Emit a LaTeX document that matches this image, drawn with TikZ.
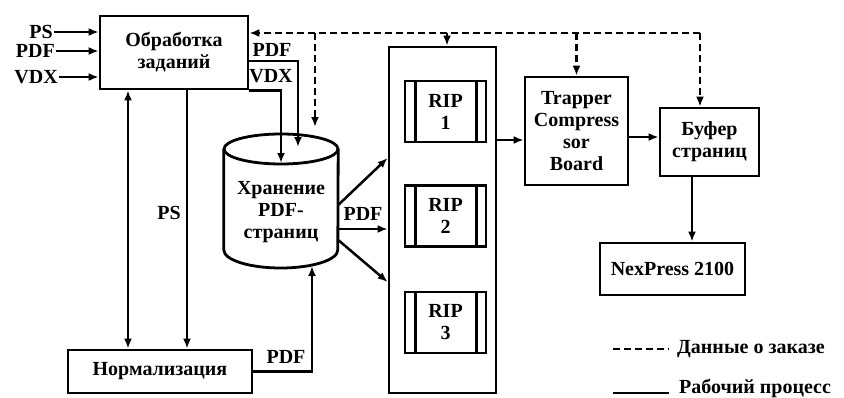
\documentclass[tikz,border=0pt]{standalone}
\usepackage{fontspec}
\setmainfont{Liberation Serif}
\usetikzlibrary{arrows.meta,calc}

\begin{document}
\begin{tikzpicture}[
  x=1pt, y=-1pt, >={Latex[length=10pt,width=8pt]},
  font=\fontsize{20}{22}\selectfont\bfseries,
  box/.style={draw, line width=2.8pt, align=center, inner sep=0pt},
  ripbox/.style={box, minimum width=81pt, minimum height=61pt},
  e/.style={->, line width=2.5pt},
  e2/.style={<->, line width=2.5pt},
  ed/.style={->, line width=2.5pt, dash pattern=on 7pt off 4pt},
  lbl/.style={inner sep=1pt}
]
\useasboundingbox (0,0) rectangle (844,397);

% ---- boxes
\node[box, minimum width=148pt, minimum height=73pt] (job) at (174,52.5)
  {Обработка\\заданий};
\node[box, minimum width=184pt, minimum height=43pt] (norm) at (160,371.5)
  {Нормализация};
\node[align=center, inner sep=0pt, minimum width=114pt, minimum height=112pt]
  (store) at (281,212) {Хранение\\PDF-\\страниц};
\node[box, minimum width=107pt, minimum height=346pt] (rips) at (442.5,220) {};
\foreach \i/\y in {1/111.5,2/216,3/322.5}
  \node[ripbox] (rip\i) at (445.5,\y) {RIP\\\i};
\node[box, minimum width=103pt, minimum height=108pt] (trap) at (576.5,131)
  {Trapper\\Compress\\sor\\Board};
\node[box, minimum width=99pt, minimum height=68pt] (buf) at (709.5,142)
  {Буфер\\страниц};
\node[box, minimum width=145pt, minimum height=52pt] (nex) at (672.5,269)
  {NexPress 2100};

% ---- cylinder outline
\draw[line width=2.8pt] (store.center |- 0,149) ellipse [x radius=57pt, y radius=15pt];
\draw[line width=2.8pt] (store.west |- 0,149) -- (store.west |- 0,250)
  arc[start angle=180, end angle=360, x radius=57pt, y radius=18pt]
  -- (store.east |- 0,149);

% ---- RIP side bars
\foreach \i in {1,2,3} {
  \draw[line width=2.5pt] ([xshift=12pt]rip\i.north west) -- ([xshift=12pt]rip\i.south west);
  \draw[line width=2.5pt] ([xshift=-11pt]rip\i.north east) -- ([xshift=-11pt]rip\i.south east);
}

% ---- inputs
\node[lbl, anchor=east] (inps) at (54,32) {PS};
\node[lbl, anchor=east] (inpdf) at (56,51) {PDF};
\node[lbl, anchor=east] (invdx) at (59,77) {VDX};
\foreach \n in {inps,inpdf,invdx}
  \draw[e] (\n.east) -- (job.west |- \n.east);

% ---- job to store
\coordinate (endpdf) at (298,147);
\coordinate (endvdx) at (281,163);
\draw[e] (job.east |- 0,61) -| (endpdf);
\draw[e] (job.south east) -| (endvdx);
\node[lbl] (lpdf) at (272,50) {PDF};
\node[lbl] (lvdx) at (271,76) {VDX};

% ---- order data (dashed)
\coordinate (bustop) at (700,33);
\coordinate (dstore) at (315,127);
\coordinate (riptop) at ([xshift=4.5pt]rips.north);
\draw[ed] (bustop) -- (job.east |- bustop);
\draw[ed] (bustop) -- (buf.north -| bustop);
\draw[ed] (trap.north |- bustop) -- (trap.north);
\draw[ed] (riptop |- bustop) -- (riptop);
\draw[ed] (dstore |- bustop) -- (dstore);

% ---- job <-> normalisation
\draw[e2] (job.south -| 128,0) -- (norm.north -| 128,0);
\draw[e] (job.south -| 187,0) -- (norm.north -| 187,0);
\node[lbl] (lps) at (169,213) {PS};

% ---- normalisation to store
\coordinate (endbot) at (312,266);
\draw[e] (norm.east) -| (endbot);
\node[lbl] (lpdf3) at (286,357) {PDF};

% ---- store to RIPs
\draw[e] (store.east |- 0,205) -- (rips.west |- 0,158);
\draw[e] (store.east |- 0,229) -- (rips.west |- 0,229);
\draw[e] (store.east |- 0,240) -- (rips.west |- 0,282);
\node[lbl] (lpdf2) at (363,214) {PDF};

% ---- output chain
\draw[e] (rips.east |- 0,140) -- (trap.west |- 0,140);
\draw[e] (trap.east |- 0,137) -- (buf.west |- 0,137);
\draw[e] (buf.south -| 692,0) -- (nex.north -| 692,0);

% ---- legend
\node[lbl, anchor=west] (legd) at (676,349) {Данные о заказе};
\node[lbl, anchor=west] (legs) at (678,388) {Рабочий процесс};
\draw[line width=2.5pt, dash pattern=on 7pt off 4pt]
  ([xshift=-63pt]legd.west) -- ([xshift=-7pt]legd.west);
\draw[line width=2.5pt] ([xshift=-65pt,yshift=-5pt]legs.west) -- ([xshift=-9pt,yshift=-5pt]legs.west);
\end{tikzpicture}
\end{document}
